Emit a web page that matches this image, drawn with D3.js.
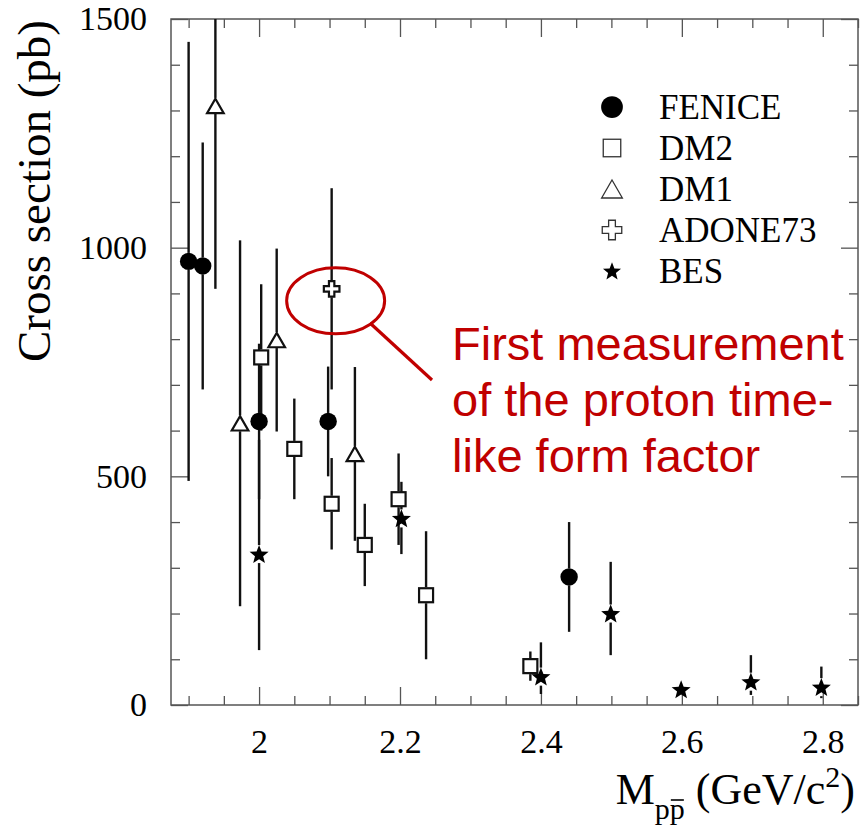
<!DOCTYPE html>
<html>
<head>
<meta charset="utf-8">
<script src="https://cdn.jsdelivr.net/npm/d3@7"></script>
<style>
  html, body { margin: 0; padding: 0; background: #fff; }
  svg { display: block; }
</style>
</head>
<body>
<svg id="chart" width="860" height="828"></svg>
<script>
// p pbar -> cross section measurements, grouped by experiment
const feniceX     = [1.900, 1.920, 2.000, 2.098, 2.440];
const feniceY     = [970, 960, 620, 620, 280];
const feniceErrLo = [480, 270, 170, 120, 120];
const feniceErrHi = [480, 270, 170, 120, 120];

const dm2X     = [2.003, 2.050, 2.103, 2.150, 2.198, 2.237, 2.385];
const dm2Y     = [760, 560, 440, 350, 450, 240, 85];
const dm2ErrLo = [160, 110, 100, 90, 100, 140, 32];
const dm2ErrHi = [160, 110, 100, 90, 100, 140, 32];

const dm1X     = [1.938, 1.973, 2.025, 2.136];
const dm1Y     = [1310, 616, 798, 549];
const dm1ErrLo = [400, 400, 200, 190];
const dm1ErrHi = [400, 400, 200, 190];

const adoneX     = [2.103];
const adoneY     = [910];
const adoneErrLo = [220];
const adoneErrHi = [220];

const besX     = [2.000, 2.202, 2.400, 2.499, 2.599, 2.698, 2.798];
const besY     = [330, 408, 62, 200, 34, 51, 39];
const besErrLo = [210, 78, 38, 91, 12, 29, 24];
const besErrHi = [250, 80, 75, 113, 12, 58, 45];

const seriesNames = ["FENICE", "DM2", "DM1", "ADONE73", "BES"];

const xMajorTicks = [2.0, 2.2, 2.4, 2.6, 2.8];
const xTickLabels = ["2", "2.2", "2.4", "2.6", "2.8"];
const yMajorTicks = [0, 500, 1000, 1500];
const yTickLabels = ["0", "500", "1000", "1500"];

const annotationLines = ["First measurement", "of the proton time-", "like form factor"];

// ---------------------------------------------------------------
const svg = d3.select("#chart");
const frame = { left: 171, right: 858, top: 19, bottom: 705 };

const x = d3.scaleLinear().domain([1.875, 2.85]).range([frame.left, frame.right]);
const y = d3.scaleLinear().domain([0, 1500]).range([frame.bottom, frame.top]);

const serif = "'Liberation Serif', 'Times New Roman', serif";
const axisColor = "#555";

svg.append("defs").append("clipPath").attr("id", "plotClip")
  .append("rect")
  .attr("x", frame.left).attr("y", frame.top)
  .attr("width", frame.right - frame.left).attr("height", frame.bottom - frame.top);

// minor tick positions
const xMinor = d3.range(1.90, 2.8501, 0.05).map(v => +v.toFixed(2)).filter(v => !xMajorTicks.some(m => Math.abs(m - v) < 1e-6));
const yMinor = d3.range(100, 1500, 100).filter(v => !yMajorTicks.includes(v));

function styleAxis(g) {
  g.select(".domain").remove();
  g.selectAll(".tick line").attr("stroke", axisColor).attr("stroke-width", 1.3);
  g.selectAll(".tick text")
    .attr("fill", "#000")
    .style("font-family", serif)
    .style("font-size", "34px");
}

// bottom
svg.append("g").attr("transform", `translate(0,${frame.bottom})`)
  .call(d3.axisBottom(x).tickValues(xMajorTicks).tickSize(-18).tickPadding(24)
    .tickFormat((d, i) => xTickLabels[i]))
  .call(styleAxis);
svg.append("g").attr("transform", `translate(0,${frame.bottom})`)
  .call(d3.axisBottom(x).tickValues(xMinor).tickSize(-9).tickFormat(""))
  .call(styleAxis);
// top
svg.append("g").attr("transform", `translate(0,${frame.top})`)
  .call(d3.axisTop(x).tickValues(xMajorTicks).tickSize(-18).tickFormat(""))
  .call(styleAxis);
svg.append("g").attr("transform", `translate(0,${frame.top})`)
  .call(d3.axisTop(x).tickValues(xMinor).tickSize(-9).tickFormat(""))
  .call(styleAxis);
// left
svg.append("g").attr("transform", `translate(${frame.left},0)`)
  .call(d3.axisLeft(y).tickValues(yMajorTicks).tickSize(-17).tickPadding(24)
    .tickFormat((d, i) => yTickLabels[i]))
  .call(styleAxis);
svg.append("g").attr("transform", `translate(${frame.left},0)`)
  .call(d3.axisLeft(y).tickValues(yMinor).tickSize(-9).tickFormat(""))
  .call(styleAxis);
// right
svg.append("g").attr("transform", `translate(${frame.right},0)`)
  .call(d3.axisRight(y).tickValues(yMajorTicks).tickSize(-17).tickFormat(""))
  .call(styleAxis);
svg.append("g").attr("transform", `translate(${frame.right},0)`)
  .call(d3.axisRight(y).tickValues(yMinor).tickSize(-9).tickFormat(""))
  .call(styleAxis);

// frame
svg.append("rect")
  .attr("x", frame.left).attr("y", frame.top)
  .attr("width", frame.right - frame.left).attr("height", frame.bottom - frame.top)
  .attr("fill", "none").attr("stroke", axisColor).attr("stroke-width", 1.5);

// axis titles
const xTitle = svg.append("text")
  .attr("x", 855).attr("y", 804)
  .attr("text-anchor", "end")
  .style("font-family", serif).style("font-size", "44px").attr("fill", "#000");
xTitle.append("tspan").text("M");
const subP1 = xTitle.append("tspan").attr("dy", 15).style("font-size", "30px").text("p");
const subP2 = xTitle.append("tspan").style("font-size", "30px").text("p");
xTitle.append("tspan").attr("dy", -15).text(" (GeV/c");
xTitle.append("tspan").attr("dy", -17).style("font-size", "30px").text("2");
xTitle.append("tspan").attr("dy", 17).text(")");

// bar over the antiproton symbol
{
  const node = xTitle.node();
  const idx = 2; // character index of the second "p"
  const ext = node.getExtentOfChar(idx);
  svg.append("line")
    .attr("x1", ext.x + 1).attr("x2", ext.x + ext.width - 1)
    .attr("y1", ext.y + 8).attr("y2", ext.y + 8)
    .attr("stroke", "#000").attr("stroke-width", 1.6);
}

svg.append("text")
  .attr("transform", `translate(50,20) rotate(-90)`)
  .attr("text-anchor", "end")
  .style("font-family", serif).style("font-size", "47px").attr("fill", "#000")
  .text("Cross section (pb)");

// marker shapes
const markerHalf = { circle: 8.5, square: 8, triangle: 8, cross: 8.5, star: 9 };

function starPath(cx, cy, R, r) {
  const pts = [];
  for (let k = 0; k < 10; k++) {
    const a = -Math.PI / 2 + k * Math.PI / 5;
    const rad = k % 2 === 0 ? R : r;
    pts.push([cx + rad * Math.cos(a), cy + rad * Math.sin(a)]);
  }
  return "M" + pts.map(p => p.join(",")).join("L") + "Z";
}

function drawMarker(g, type, cx, cy, scale, strokeW, strokeCol) {
  const s = scale;
  if (type === "circle") {
    g.append("circle").attr("cx", cx).attr("cy", cy).attr("r", 8.7 * s).attr("fill", "#000");
  } else if (type === "square") {
    const h = 7 * s;
    g.append("rect").attr("x", cx - h).attr("y", cy - h).attr("width", 2 * h).attr("height", 2 * h)
      .attr("fill", "#fff").attr("stroke", strokeCol).attr("stroke-width", strokeW);
  } else if (type === "triangle") {
    const w = 8.3 * s, h = 7.2 * s;
    g.append("path")
      .attr("d", `M${cx},${cy - h}L${cx + w},${cy + h}L${cx - w},${cy + h}Z`)
      .attr("fill", "#fff").attr("stroke", strokeCol).attr("stroke-width", strokeW).attr("stroke-linejoin", "miter");
  } else if (type === "cross") {
    const a = 7.8 * s, b = 2.7 * s;
    const pts = [[-b, -a], [b, -a], [b, -b], [a, -b], [a, b], [b, b], [b, a], [-b, a], [-b, b], [-a, b], [-a, -b], [-b, -b]];
    g.append("path")
      .attr("d", "M" + pts.map(p => `${cx + p[0]},${cy + p[1]}`).join("L") + "Z")
      .attr("fill", "#fff").attr("stroke", strokeCol).attr("stroke-width", strokeW);
  } else if (type === "star") {
    g.append("path")
      .attr("d", starPath(cx, cy + 0.8 * s, 10 * s, 4.3 * s))
      .attr("fill", "#000");
  }
}

const series = [
  { name: seriesNames[0], type: "circle",   xs: feniceX, ys: feniceY, lo: feniceErrLo, hi: feniceErrHi },
  { name: seriesNames[1], type: "square",   xs: dm2X,    ys: dm2Y,    lo: dm2ErrLo,    hi: dm2ErrHi },
  { name: seriesNames[2], type: "triangle", xs: dm1X,    ys: dm1Y,    lo: dm1ErrLo,    hi: dm1ErrHi },
  { name: seriesNames[3], type: "cross",    xs: adoneX,  ys: adoneY,  lo: adoneErrLo,  hi: adoneErrHi },
  { name: seriesNames[4], type: "star",     xs: besX,    ys: besY,    lo: besErrLo,    hi: besErrHi }
];

// error bars (interrupted at the marker)
const errG = svg.append("g").attr("clip-path", "url(#plotClip)");
series.forEach(s => {
  const gap = markerHalf[s.type];
  s.xs.forEach((xv, i) => {
    const px = x(xv), py = y(s.ys[i]);
    const top = y(s.ys[i] + s.hi[i]), bot = y(s.ys[i] - s.lo[i]);
    if (top < py - gap) {
      errG.append("line").attr("x1", px).attr("x2", px).attr("y1", top).attr("y2", py - gap)
        .attr("stroke", "#111").attr("stroke-width", 2.4);
    }
    if (bot > py + gap) {
      errG.append("line").attr("x1", px).attr("x2", px).attr("y1", py + gap).attr("y2", bot)
        .attr("stroke", "#111").attr("stroke-width", 2.4);
    }
  });
});

// markers
const markG = svg.append("g");
series.forEach(s => {
  s.xs.forEach((xv, i) => drawMarker(markG, s.type, x(xv), y(s.ys[i]), 1, 2.2, "#111"));
});

// legend
const legendG = svg.append("g");
series.forEach((s, i) => {
  const ly = 107 + i * 41;
  drawMarker(legendG, s.type, 612, ly, s.type === "star" ? 0.95 : 1.25, 1.3, "#333");
  legendG.append("text")
    .attr("x", 659).attr("y", ly).attr("dy", "0.35em")
    .style("font-family", serif).style("font-size", "35px").attr("fill", "#000")
    .text(s.name);
});

// annotation
const red = "#c00000";
svg.append("ellipse")
  .attr("cx", x(adoneX[0]) + 4).attr("cy", y(adoneY[0]) + 12)
  .attr("rx", 49).attr("ry", 33)
  .attr("fill", "none").attr("stroke", red).attr("stroke-width", 3);
svg.append("line")
  .attr("x1", 370).attr("y1", 323).attr("x2", 432).attr("y2", 380)
  .attr("stroke", red).attr("stroke-width", 3.2);
const ann = svg.append("text")
  .attr("x", 452).attr("y", 360)
  .style("font-family", "'Liberation Sans', Arial, sans-serif").style("font-size", "47px")
  .attr("fill", red);
annotationLines.forEach((t, i) => {
  ann.append("tspan").attr("x", 452).attr("dy", i === 0 ? 0 : 56).text(t);
});
</script>
</body>
</html>
